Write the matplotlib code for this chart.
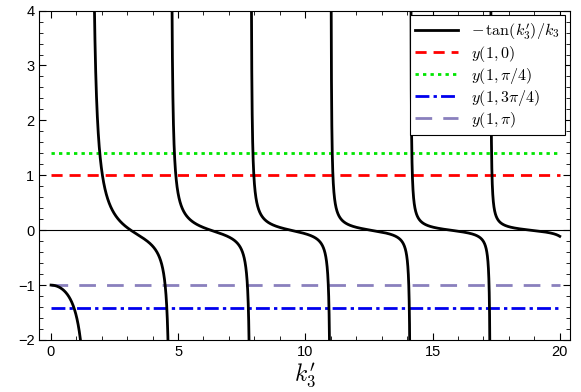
import numpy as np
import matplotlib
matplotlib.use('Agg')
import matplotlib.pyplot as plt
from matplotlib.ticker import MultipleLocator

plt.rcParams['mathtext.fontset'] = 'cm'
plt.rcParams['font.family'] = ['Liberation Sans', 'DejaVu Sans']

# curve sample range for -tan(k)/k
k_start, k_stop, k_count = 0.01, 20.0, 40000

# horizontal reference levels
level_labels = [r'$y(1,0)$', r'$y(1,\pi/4)$', r'$y(1,3\pi/4)$', r'$y(1,\pi)$']
level_values = [1.0, 1.414, -1.414, -1.0]
level_colors = ['#ff0000', '#00e600', '#0000ee', '#8a80bd']
level_styles = [(0, (4, 2.5)), (0, (1.2, 1.5)), (0, (5, 1.5, 1.2, 1.5)), (0, (6, 4))]
level_x = [0, 20]

k = np.linspace(k_start, k_stop, k_count)
y = -np.tan(k) / k
y[np.abs(y) > 60] = np.nan

fig = plt.figure(figsize=(5.81, 3.92), dpi=100)
ax = fig.add_axes([0.0677, 0.1327, 0.9133, 0.8403])

ax.axhline(0, color='black', lw=0.8, zorder=1)
ax.plot(k, y, color='black', lw=2.0, label=r"$-\,\tan(k_3')/k_3$", zorder=3)
for lab, val, col, ls in zip(level_labels, level_values, level_colors, level_styles):
    ax.plot(level_x, [val, val], color=col, lw=2.0, linestyle=ls, label=lab, zorder=2)

ax.set_xlim(-0.45, 20.4)
ax.set_ylim(-2, 4)
ax.xaxis.set_major_locator(MultipleLocator(5))
ax.xaxis.set_minor_locator(MultipleLocator(1))
ax.yaxis.set_major_locator(MultipleLocator(1))
ax.yaxis.set_minor_locator(MultipleLocator(0.2))
ax.tick_params(which='both', direction='in', top=True, right=True, labelsize=10.5)
ax.tick_params(which='major', length=5)
ax.tick_params(which='minor', length=3)
ax.set_xlabel(r"$k_3'$", fontsize=17, labelpad=2)

leg = ax.legend(loc='upper right', fontsize=11.5, fancybox=False, framealpha=1,
                edgecolor='black', borderaxespad=0.3, handlelength=2.7,
                labelspacing=0.12, borderpad=0.35)
leg.get_frame().set_linewidth(0.8)

fig.savefig('out.png', dpi=100)
